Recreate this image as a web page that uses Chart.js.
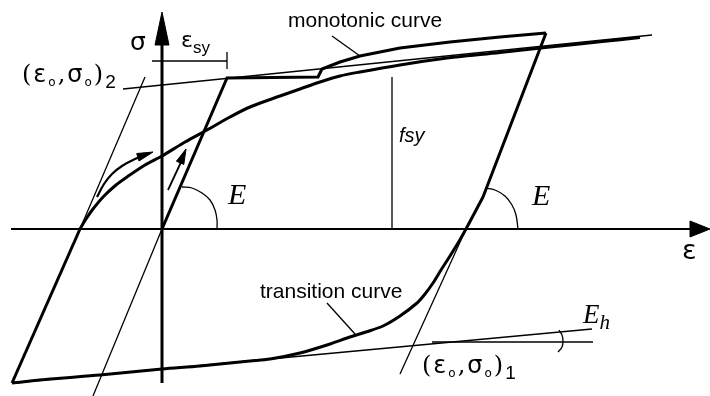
<!DOCTYPE html>
<html><head><meta charset="utf-8">
<script src="https://cdn.jsdelivr.net/npm/chart.js@4"></script>
<style>html,body{margin:0;padding:0;background:#fff;}#wrap{width:710px;height:396px;}</style>
</head><body><div id="wrap"><canvas id="c" width="710" height="396"></canvas></div>
<script>
// ---- schematic values (strain eps, stress sig), origin at axis crossing ----
const epsAxisEps = [-151, 528];
const epsAxisSig = [0, 0];
const sigAxisEps = [0, 0];
const sigAxisSig = [-154, 184];
const epsArrowEps = [528, 548, 528, 528];
const epsArrowSig = [8, 0, -8, 8];
const sigArrowEps = [-7, 0, 7, -7];
const sigArrowSig = [184, 217, 184, 184];

// monotonic curve: elastic, yield plateau, hardening
const monoEps = [0, 65, 156, 160, 178, 198, 238, 288, 338, 384];
const monoSig = [0, 151, 152, 160, 167, 173, 181, 187, 192, 196];
// unloading with slope E
const unloadEps = [384, 321, 304];
const unloadSig = [196, 32, 0];
// transition curve (downward) to lower asymptote
const transDownEps = [304, 296, 288, 279, 271, 263, 255, 238, 221, 204, 188, 168, 138, 108, 88, 38, 0, -62, -112, -150];
const transDownSig = [0, -14, -27, -41, -54, -65, -74, -87, -97, -103, -108, -115, -124, -130, -132, -137, -140, -146, -150, -154];
// reloading elastic branch
const reloadEps = [-150, -82];
const reloadSig = [-154, 0];
// transition curve (upward) to upper asymptote
const transUpEps = [-82, -76, -69, -58, -46, -35, -17, 0, 23, 45, 68, 88, 118, 138, 158, 178, 198, 238, 278, 338, 388, 438, 478];
const transUpSig = [0, 10, 20, 33, 44, 52, 64, 73, 87, 99, 112, 122, 133, 140, 147, 153, 157, 164, 170, 176.5, 182, 187.2, 191.5];

// thin construction lines
const elasticOriginEps = [0, -69];
const elasticOriginSig = [0, -167];
const elasticReloadEps = [-82, -17];
const elasticReloadSig = [0, 152];
const elasticUnloadEps = [304, 238];
const elasticUnloadSig = [0, -145];
const upperAsymEps = [-39, 490];
const upperAsymSig = [140, 194];
const lowerAsymEps = [-150, 430];
const lowerAsymSig = [-154, -100];
const ehRefEps = [270, 431];
const ehRefSig = [-113, -113];
const ehArcEps = [397, 400, 401, 400, 396];
const ehArcSig = [-101, -106, -112, -118, -123];
const fsyEps = [230, 230];
const fsySig = [0, 152];
const esyDimEps = [-10, 65];
const esyDimSig = [168, 168];
const esyTickEps = [65, 65];
const esyTickSig = [160, 177];
const arcLeftEps = [20, 30, 40, 48, 53, 55, 55];
const arcLeftSig = [42, 41, 36, 29, 19, 9, 0];
const arcRightEps = [323, 333, 343, 350, 354, 356];
const arcRightSig = [41, 39, 33, 24, 14, 0];
const leaderMonoEps = [170, 198];
const leaderMonoSig = [193, 173];
const leaderTransEps = [165, 193];
const leaderTransSig = [-74, -105];
// loading arrows
const curvArrowEps = [-65, -58, -50, -40, -27, -12];
const curvArrowSig = [32, 45, 55, 63, 70, 76];
const curvHeadEps = [-9, -23, -25.3, -9];
const curvHeadSig = [77, 68, 75.5, 77];
const straightArrowEps = [6, 20];
const straightArrowSig = [39, 69];
const straightHeadEps = [24, 21.8, 14.4, 24];
const straightHeadSig = [80, 64.6, 67.8, 80];

// ---- helpers ----
function pts(xs, ys) { return xs.map((x, i) => ({ x: x, y: ys[i] })); }
function ln(xs, ys, w, extra) {
  return Object.assign({
    data: pts(xs, ys), showLine: true, borderColor: '#000', backgroundColor: '#000',
    borderWidth: w, pointRadius: 0, pointHoverRadius: 0, fill: false, tension: 0,
    borderJoinStyle: 'round', borderCapStyle: 'butt'
  }, extra || {});
}
function head(xs, ys) { return ln(xs, ys, 1, { fill: 'shape', borderJoinStyle: 'miter' }); }

const THIN = 1.3, THICK = 3;
const datasets = [
  ln(epsAxisEps, epsAxisSig, 2),
  ln(sigAxisEps, sigAxisSig, 3),
  head(epsArrowEps, epsArrowSig),
  head(sigArrowEps, sigArrowSig),
  ln(monoEps, monoSig, THICK, { borderJoinStyle: 'miter' }),
  ln(unloadEps, unloadSig, THICK),
  ln(transDownEps, transDownSig, THICK, { tension: 0.3 }),
  ln(reloadEps, reloadSig, THICK),
  ln(transUpEps, transUpSig, THICK, { tension: 0.3 }),
  ln(elasticOriginEps, elasticOriginSig, THIN),
  ln(elasticReloadEps, elasticReloadSig, THIN),
  ln(elasticUnloadEps, elasticUnloadSig, THIN),
  ln(upperAsymEps, upperAsymSig, THIN),
  ln(lowerAsymEps, lowerAsymSig, THIN),
  ln(ehRefEps, ehRefSig, THIN),
  ln(ehArcEps, ehArcSig, THIN, { tension: 0.4 }),
  ln(fsyEps, fsySig, THIN),
  ln(esyDimEps, esyDimSig, THIN),
  ln(esyTickEps, esyTickSig, THIN),
  ln(arcLeftEps, arcLeftSig, THIN, { tension: 0.4 }),
  ln(arcRightEps, arcRightSig, THIN, { tension: 0.4 }),
  ln(leaderMonoEps, leaderMonoSig, THIN),
  ln(leaderTransEps, leaderTransSig, THIN),
  ln(curvArrowEps, curvArrowSig, 2.2, { tension: 0.4 }),
  head(curvHeadEps, curvHeadSig),
  ln(straightArrowEps, straightArrowSig, 1.8),
  head(straightHeadEps, straightHeadSig)
];

// ---- text annotations ----
const GREEK = '"DejaVu Sans"';
const annotations = [
  { at: [-32, 179], runs: [['σ', '25px ' + GREEK]] },
  { at: [19, 182], runs: [['ε', '22px ' + GREEK], ['sy', '17px "Liberation Sans"', 6]] },
  { at: [520, -30], runs: [['ε', '27px ' + GREEK]] },
  { at: [-140, 147], gap: 2, runs: [['(', '24px "DejaVu Serif"'], ['ε', '24px ' + GREEK], ['o', '12px ' + GREEK, 4], [',', '24px "DejaVu Serif"'], ['σ', '24px ' + GREEK], ['o', '12px ' + GREEK, 4], [')', '24px "DejaVu Serif"'], ['2', '19px "Liberation Sans"', 6]] },
  { at: [260, -144], gap: 2, runs: [['(', '24px "DejaVu Serif"'], ['ε', '24px ' + GREEK], ['o', '12px ' + GREEK, 4], [',', '24px "DejaVu Serif"'], ['σ', '24px ' + GREEK], ['o', '12px ' + GREEK, 4], [')', '24px "DejaVu Serif"'], ['1', '19px "Liberation Sans"', 6]] },
  { at: [126, 202], runs: [['monotonic curve', '21px "Liberation Sans"']] },
  { at: [98, -69], runs: [['transition curve', '21px "Liberation Sans"']] },
  { at: [237, 87], runs: [['fsy', 'italic 20px "Liberation Sans"']] },
  { at: [66, 25], runs: [['E', 'italic 30px "Liberation Serif"']] },
  { at: [370, 24], runs: [['E', 'italic 30px "Liberation Serif"']] },
  { at: [421, -94], runs: [['E', 'italic 27px "Liberation Serif"'], ['h', 'italic 21px "Liberation Serif"', 6]] }
];

const textPlugin = {
  id: 'schematicText',
  afterDatasetsDraw(chart) {
    const ctx = chart.ctx, sx = chart.scales.x, sy = chart.scales.y;
    ctx.save();
    ctx.fillStyle = '#000';
    ctx.textBaseline = 'alphabetic';
    ctx.textAlign = 'left';
    for (const a of annotations) {
      let px = sx.getPixelForValue(a.at[0]);
      const py = sy.getPixelForValue(a.at[1]);
      for (const r of a.runs) {
        ctx.font = r[1];
        ctx.fillText(r[0], px, py + (r[2] || 0));
        px += ctx.measureText(r[0]).width + (a.gap || 0);
      }
    }
    ctx.restore();
  }
};

new Chart(document.getElementById('c'), {
  type: 'scatter',
  data: { datasets: datasets },
  options: {
    responsive: false, animation: false, devicePixelRatio: 1,
    layout: { padding: 0 },
    plugins: { legend: { display: false }, tooltip: { enabled: false } },
    events: [],
    scales: {
      x: { type: 'linear', min: -162, max: 548, display: false },
      y: { type: 'linear', min: -167, max: 229, display: false }
    }
  },
  plugins: [textPlugin]
});
</script></body></html>
